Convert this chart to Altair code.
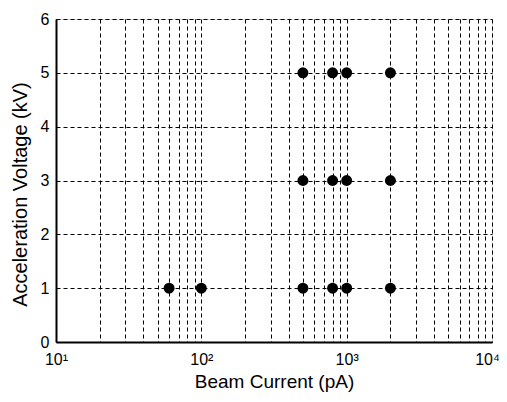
import altair as alt
import pandas as pd

current_pA = [60, 100, 500, 800, 1000, 2000, 500, 800, 1000, 2000, 500, 800, 1000, 2000]
voltage_kV = [1, 1, 1, 1, 1, 1, 3, 3, 3, 3, 5, 5, 5, 5]

x_grid_values = [10, 20, 30, 40, 50, 60, 70, 80, 90,
                 100, 200, 300, 400, 500, 600, 700, 800, 900,
                 1000, 2000, 3000, 4000, 5000, 6000, 7000, 8000, 9000, 10000]
y_values = [0, 1, 2, 3, 4, 5, 6]

df = pd.DataFrame({"current": current_pA, "voltage": voltage_kV})

FONT = "Liberation Sans"

label_expr = ("datum.value == 10 ? '10\u00b9' : datum.value == 100 ? '10\u00b2' : "
              "datum.value == 1000 ? '10\u00b3' : datum.value == 10000 ? '10\u2074' : ''")

chart = alt.Chart(df).mark_circle(size=120, color="black", opacity=1).encode(
    x=alt.X("current:Q",
            scale=alt.Scale(type="log", domain=[10, 10000], nice=False),
            axis=alt.Axis(title="Beam Current (pA)", values=x_grid_values,
                          labelExpr=label_expr, ticks=False,
                          grid=True, gridColor="black", gridDash=[4, 3], gridOpacity=1,
                          gridWidth=1, domainColor="black", domainWidth=2, labelPadding=9,
                          labelOffset={"condition": {"test": "datum.value == 10000", "value": -5},
                                       "value": 0},
                          labelFontSize=16, labelColor="black", labelFont=FONT,
                          titleFont=FONT, titleFontSize=19, titleFontWeight="normal",
                          titleColor="black", titlePadding=5, labelFlush=False)),
    y=alt.Y("voltage:Q",
            scale=alt.Scale(domain=[0, 6], nice=False),
            axis=alt.Axis(title="Acceleration Voltage (kV)", values=y_values, format="d",
                          ticks=False, grid=True, gridColor="black", gridDash=[4, 3],
                          gridOpacity=1, gridWidth=1, domainColor="black", domainWidth=2,
                          labelPadding=7,
                          labelFontSize=16, labelColor="black", labelFont=FONT,
                          titleFont=FONT, titleFontSize=20, titleFontWeight="normal",
                          titleColor="black", titlePadding=10, titleY=175)),
).properties(
    width=436, height=323,
    autosize=alt.AutoSizeParams(type="none"),
    padding={"left": 48, "top": 11, "right": 7, "bottom": 52},
).configure_view(
    stroke="black", strokeWidth=2
).configure(background="white")

chart.save("out.html", embed_options={"renderer": "svg", "actions": False})
